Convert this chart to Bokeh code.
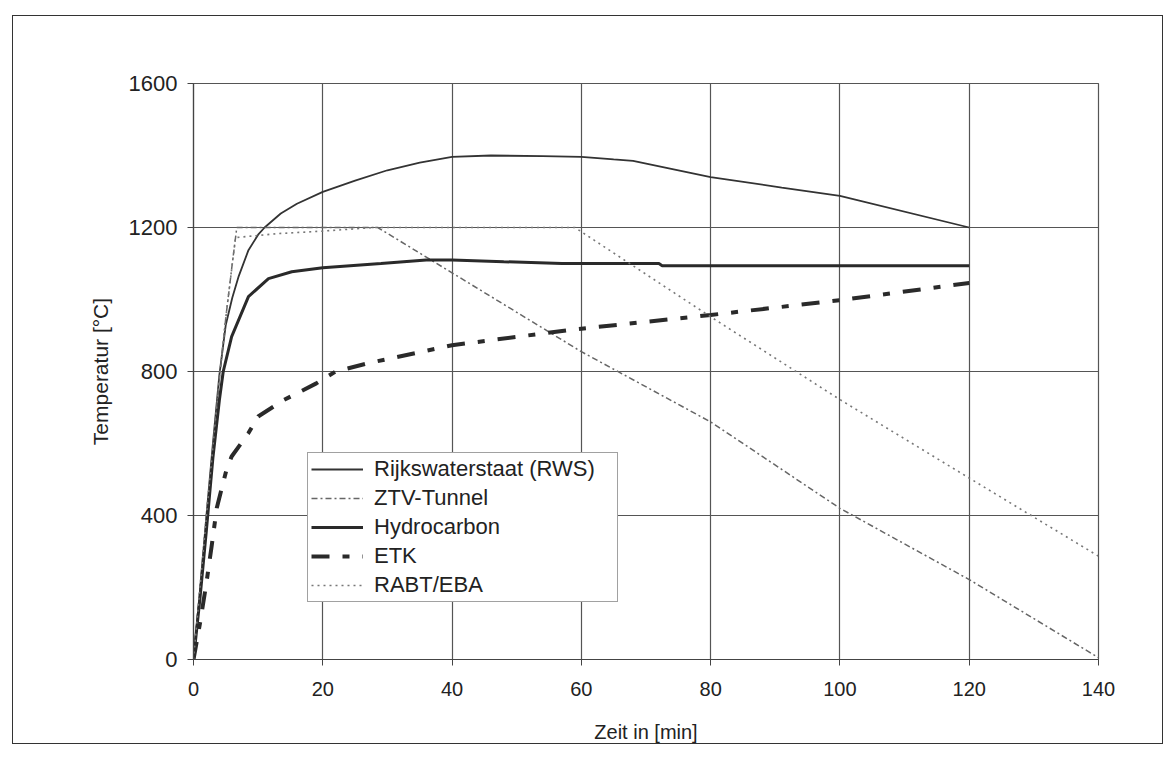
from bokeh.plotting import figure
from bokeh.models import Legend, LegendItem, FixedTicker, Range1d
from bokeh.embed import file_html
from bokeh.resources import INLINE

# ---- data ----
x_ticks = [0, 20, 40, 60, 80, 100, 120, 140]
y_ticks = [0, 400, 800, 1200, 1600]

rws_t = [0, 1, 2, 3, 4, 5, 6, 7, 8.5, 10, 11, 13.5, 16, 20, 25, 30, 35, 40, 46, 54, 60, 65, 68, 80, 91, 100, 120]
rws_T = [0, 190, 400, 600, 790, 930, 1005, 1065, 1137, 1180, 1200, 1239, 1266, 1299, 1330, 1359, 1380, 1396, 1400, 1398, 1396, 1389, 1385, 1340, 1311, 1288, 1200]

ztv_t = [0, 2, 4, 5, 6, 6.7, 28.5, 60, 80, 100, 120, 140]
ztv_T = [0, 400, 780, 950, 1100, 1200, 1200, 855, 660, 420, 222, 5]

hc_t = [0, 1, 2, 3, 4, 4.6, 5.9, 8.5, 11.6, 15.2, 20, 29, 36, 40, 48, 57, 72, 72.5, 120]
hc_T = [0, 170, 360, 560, 720, 800, 897, 1008, 1058, 1077, 1088, 1100, 1110, 1110, 1105, 1100, 1100, 1094, 1094]

etk_t = [0, 1, 2, 2.8, 3.6, 5.1, 5.9, 8.5, 10, 14, 19, 22, 27, 40, 59, 80, 100, 120]
etk_T = [0, 100, 213, 314, 421, 527, 564, 629, 675, 721, 767, 800, 823, 873, 917, 957, 998, 1046]

rabt_t = [0, 2, 4, 5, 6.5, 13, 20, 28, 59, 80, 100, 120, 140]
rabt_T = [0, 400, 780, 950, 1172, 1183, 1190, 1200, 1200, 952, 722, 504, 287]

labels = ["Rijkswaterstaat (RWS)", "ZTV-Tunnel", "Hydrocarbon", "ETK", "RABT/EBA"]

FONT = "Liberation Sans"

p = figure(width=1151, height=729,
           x_range=Range1d(0, 140), y_range=Range1d(0, 1600),
           output_backend="svg", toolbar_location=None,
           min_border_left=180, min_border_right=66,
           min_border_top=67, min_border_bottom=85)
p.margin = (15, 0, 0, 12)
p.styles = {"border": "1px solid #333"}
p.background_fill_color = "white"
p.border_fill_color = "white"
p.outline_line_color = "#555555"
p.outline_line_width = 1.2

# axes
for ax, ticks in ((p.xaxis, x_ticks), (p.yaxis, y_ticks)):
    ax.ticker = FixedTicker(ticks=ticks)
    ax.minor_tick_line_color = None
    ax.major_tick_in = 0
    ax.major_tick_out = 6
    ax.axis_line_color = "#444444"
    ax.axis_line_width = 1.2
    ax.major_tick_line_color = "#444444"
    ax.major_label_text_font = FONT
    ax.major_label_text_color = "#222222"
    ax.axis_label_text_font = FONT
    ax.axis_label_text_font_size = "20px"
    ax.axis_label_text_font_style = "normal"
    ax.axis_label_text_color = "#222222"
p.xaxis.major_label_text_font_size = "20px"
p.yaxis.major_label_text_font_size = "22px"
p.yaxis.axis_label_text_font_size = "21px"
p.xaxis.axis_label = "Zeit in [min]"
p.yaxis.axis_label = "Temperatur [°C]"
p.xaxis.major_label_standoff = 16
p.yaxis.major_label_standoff = 10
p.xaxis.axis_label_standoff = 22
p.yaxis.axis_label_standoff = 14

p.xgrid.ticker = FixedTicker(ticks=x_ticks)
p.ygrid.ticker = FixedTicker(ticks=y_ticks)
for g in (p.xgrid, p.ygrid):
    g.grid_line_color = "#555555"
    g.grid_line_width = 1.2

r_rws = p.line(rws_t, rws_T, line_color="#333333", line_width=1.8)
r_ztv = p.line(ztv_t, ztv_T, line_color="#666666", line_width=1.5, line_dash="6 3 2 3")
r_hc = p.line(hc_t, hc_T, line_color="#2a2a2a", line_width=3)
r_etk = p.line(etk_t, etk_T, line_color="#2a2a2a", line_width=4, line_dash="18 13 7 13")
r_rabt = p.line(rabt_t, rabt_T, line_color="#777777", line_width=1.6, line_dash="2 4")

legend = Legend(items=[LegendItem(label=l, renderers=[r]) for l, r in
                       zip(labels, [r_rws, r_ztv, r_hc, r_etk, r_rabt])],
                location=(114, 57))
legend.label_text_font = FONT
legend.label_text_font_size = "22px"
legend.label_text_color = "#222222"
legend.border_line_color = "#444444"
legend.border_line_width = 1.2
legend.background_fill_color = "white"
legend.background_fill_alpha = 1.0
legend.padding = 3
legend.spacing = 3
legend.margin = 0
legend.glyph_width = 52
legend.glyph_height = 20
legend.label_height = 20
legend.label_width = 240
legend.label_standoff = 11
p.add_layout(legend)

open("out.html", "w").write(file_html(p, INLINE))
